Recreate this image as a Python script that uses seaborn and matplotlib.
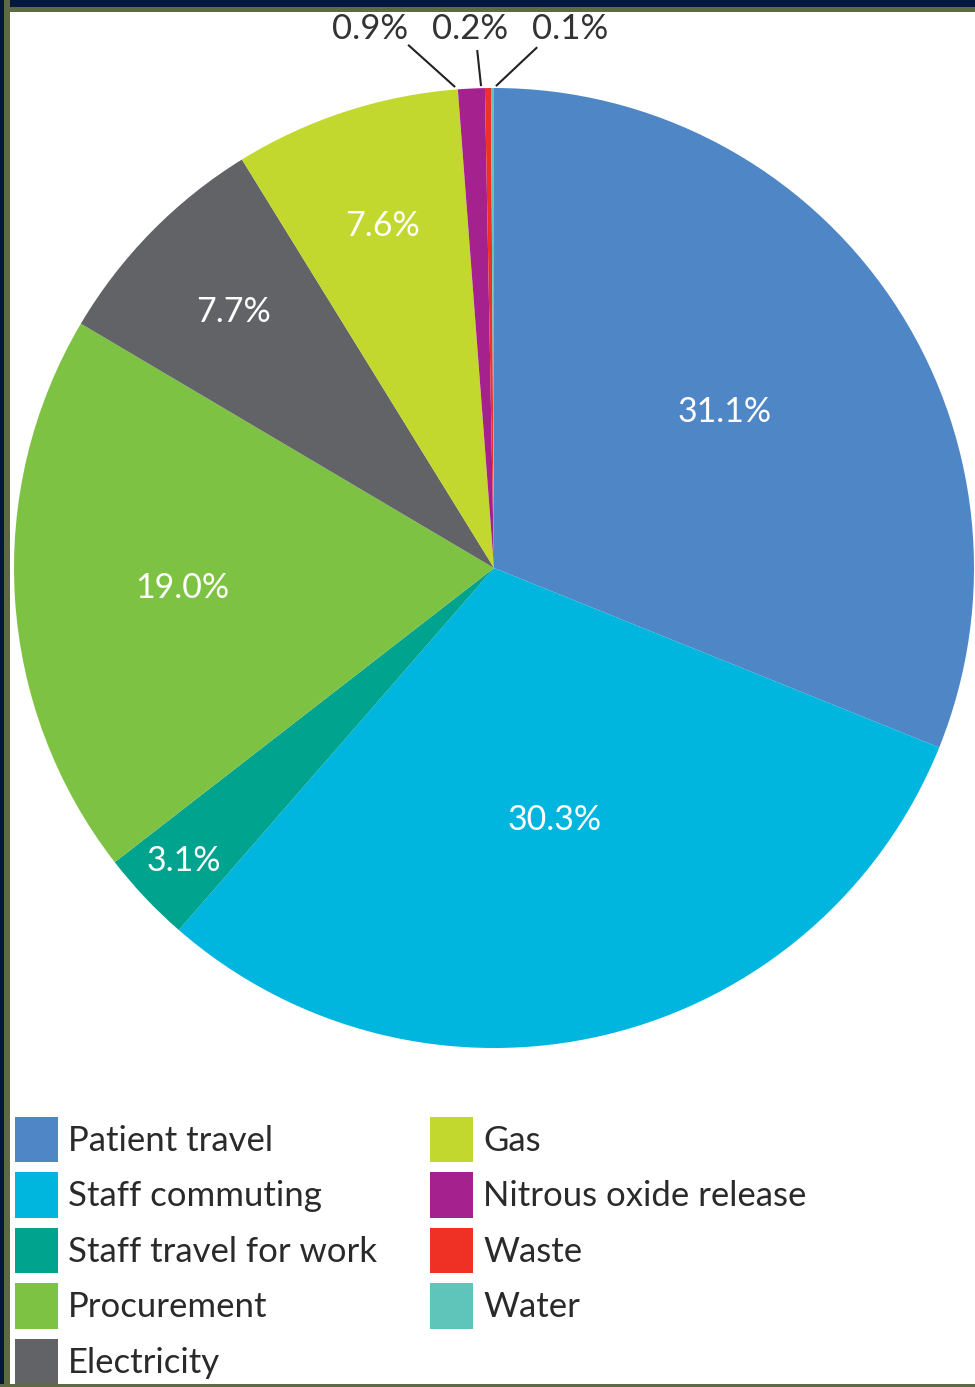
import numpy as np
import matplotlib
matplotlib.use("Agg")
import matplotlib.pyplot as plt
from matplotlib.patches import Rectangle, Patch
import seaborn as sns

# Emission sources and their share of the carbon footprint (%)
categories = ["Patient travel", "Staff commuting", "Staff travel for work",
              "Procurement", "Electricity", "Gas",
              "Nitrous oxide release", "Waste", "Water"]
shares = [31.1, 30.3, 3.1, 19.0, 7.7, 7.6, 0.9, 0.2, 0.1]
share_labels = ["31.1%", "30.3%", "3.1%", "19.0%", "7.7%", "7.6%",
                "0.9%", "0.2%", "0.1%"]
hex_colors = ["#4F86C6", "#00B5DE", "#00A38D", "#7DC242", "#626366",
              "#C3D82E", "#A5228E", "#EE3124", "#5FC4B9"]

sns.set_theme(style="white")
FONT = ["Lato", "DejaVu Sans"]
plt.rcParams["font.family"] = FONT
palette = sns.color_palette(hex_colors)

W, H, DPI = 975, 1387, 100
fig = plt.figure(figsize=(W / DPI, H / DPI), dpi=DPI, facecolor="white")

# pie axes placed in pixel terms: centre (494, 568), radius 480
cx, cy, R = 494, 568, 480
ax = fig.add_axes([(cx - R) / W, (H - cy - R) / H, 2 * R / W, 2 * R / H])
wedges, _ = ax.pie(shares, colors=palette, startangle=90, counterclock=False,
                   radius=1.0, wedgeprops=dict(linewidth=0))
ax.set_xlim(-1, 1)
ax.set_ylim(-1, 1)
ax.set_aspect("equal")
ax.axis("off")

# inner labels: radial distance (fraction of radius) for each big wedge
inner_r = [0.58, 0.54, 0.89, 0.65, 0.76, 0.75]
for w, lab, rr in zip(wedges[:6], share_labels[:6], inner_r):
    mid = np.deg2rad((w.theta1 + w.theta2) / 2)
    ax.text(rr * np.cos(mid), rr * np.sin(mid), lab, ha="center", va="center",
            color="white", fontsize=24.5, fontweight="normal")

# small wedges at the top: labels above with leader lines
line_start = [(-0.081, 1.002), (-0.027, 1.004), (0.004, 1.004)]
line_end = [(-0.179, 1.090), (-0.035, 1.079), (0.090, 1.085)]
text_pos = [(-0.258, 1.123), (-0.050, 1.123), (0.158, 1.123)]
for lab, ls, le, tp in zip(share_labels[6:], line_start, line_end, text_pos):
    ax.plot([ls[0], le[0]], [ls[1], le[1]], color="#222222", lw=1.5,
            clip_on=False, solid_capstyle="butt")
    ax.text(tp[0], tp[1], lab, ha="center", va="center", color="#333333",
            fontsize=25, fontweight="normal", clip_on=False)

# legend in two columns
handles = [Patch(facecolor=c, edgecolor="none") for c in palette]
leg_kw = dict(frameon=False, loc="upper left", borderpad=0, borderaxespad=0,
              handlelength=1.24, handleheight=1.62,
              handletextpad=0.29, labelspacing=0.30,
              prop=dict(family=FONT, weight="normal", size=25))
leg1 = fig.legend(handles[:5], categories[:5],
                  bbox_to_anchor=(15 / W, 1 - 1117 / H), **leg_kw)
leg2 = fig.legend(handles[5:], categories[5:],
                  bbox_to_anchor=(430 / W, 1 - 1117 / H), **leg_kw)
for leg in (leg1, leg2):
    for t in leg.get_texts():
        t.set_color("#2a2a2a")

# navy and olive frame along the top, left and bottom edges
navy, olive = "#04173F", "#5D6A44"
fig.add_artist(Rectangle((0, 1 - 12 / H), 1, 12 / H, transform=fig.transFigure,
                         facecolor=olive, edgecolor="none"))
fig.add_artist(Rectangle((0, 1 - 7 / H), 1, 7 / H, transform=fig.transFigure,
                         facecolor=navy, edgecolor="none"))
fig.add_artist(Rectangle((0, 0), 10 / W, 1, transform=fig.transFigure,
                         facecolor=olive, edgecolor="none"))
fig.add_artist(Rectangle((0, 0), 4 / W, 1, transform=fig.transFigure,
                         facecolor=navy, edgecolor="none"))
fig.add_artist(Rectangle((0, 0), 1, 3 / H, transform=fig.transFigure,
                         facecolor=olive, edgecolor="none"))

fig.savefig("out.png", dpi=DPI, facecolor="white")
